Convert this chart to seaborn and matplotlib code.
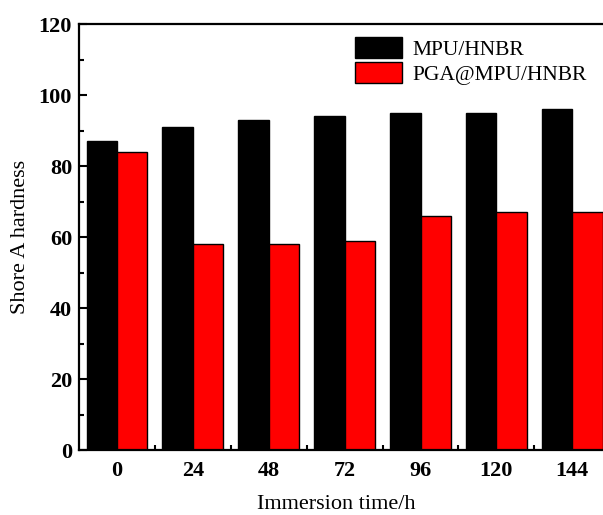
import numpy as np
import pandas as pd
import matplotlib
matplotlib.use('Agg')
import matplotlib.pyplot as plt
import seaborn as sns
from matplotlib.ticker import MultipleLocator, FixedLocator

times = ['0', '24', '48', '72', '96', '120', '144']
mpu_hnbr = [87, 91, 93, 94, 95, 95, 96]
pga_mpu_hnbr = [84, 58, 58, 59, 66, 67, 67]
series_names = ['MPU/HNBR', 'PGA@MPU/HNBR']

df = pd.DataFrame({
    'time': times * 2,
    'hardness': mpu_hnbr + pga_mpu_hnbr,
    'sample': [series_names[0]] * len(times) + [series_names[1]] * len(times),
})

sns.set_style('ticks')
plt.rcParams['font.family'] = ['Liberation Serif', 'DejaVu Serif']
plt.rcParams['text.color'] = 'black'
plt.rcParams['axes.labelcolor'] = 'black'

fig = plt.figure(figsize=(6.03, 5.15), dpi=100)
# axes runs slightly past the right edge, as in the cropped reference
ax = fig.add_axes([0.131, 0.126, 0.881, 0.827])

sns.barplot(data=df, x='time', y='hardness', hue='sample', order=times,
            hue_order=series_names, palette=['black', 'red'], width=0.8,
            edgecolor='black', linewidth=1, saturation=1, ax=ax)

ax.set_ylim(0, 120)
ax.set_xlim(-0.5, len(times) - 0.5)
ax.yaxis.set_major_locator(MultipleLocator(20))
ax.yaxis.set_minor_locator(MultipleLocator(10))
ax.xaxis.set_minor_locator(FixedLocator(np.arange(0.5, len(times) - 0.5, 1)))

for s in ax.spines.values():
    s.set_linewidth(1.6)
    s.set_color('black')

ax.tick_params(axis='both', which='both', direction='in', width=1.5, colors='black')
ax.tick_params(axis='y', which='major', length=6, labelsize=16, pad=5)
ax.tick_params(axis='y', which='minor', length=3.5)
ax.tick_params(axis='x', which='major', length=0, labelsize=16, pad=8)
ax.tick_params(axis='x', which='minor', length=3.5)
for lab in ax.get_xticklabels() + ax.get_yticklabels():
    lab.set_fontweight('bold')

ax.set_xlabel('Immersion time/h', fontsize=16)
ax.xaxis.set_label_coords(0.485, -0.105)
ax.set_ylabel('Shore A hardness', fontsize=16, labelpad=6)

leg = ax.legend(loc='upper left', bbox_to_anchor=(355 / 603, 1 - 37 / 515),
                bbox_transform=fig.transFigure, frameon=False, fontsize=15.5,
                handlelength=2.2, handleheight=1.15, labelspacing=0.1,
                handletextpad=0.45, borderpad=0, borderaxespad=0)
for t in leg.get_texts():
    t.set_color('black')

fig.savefig('out.png', dpi=100)
